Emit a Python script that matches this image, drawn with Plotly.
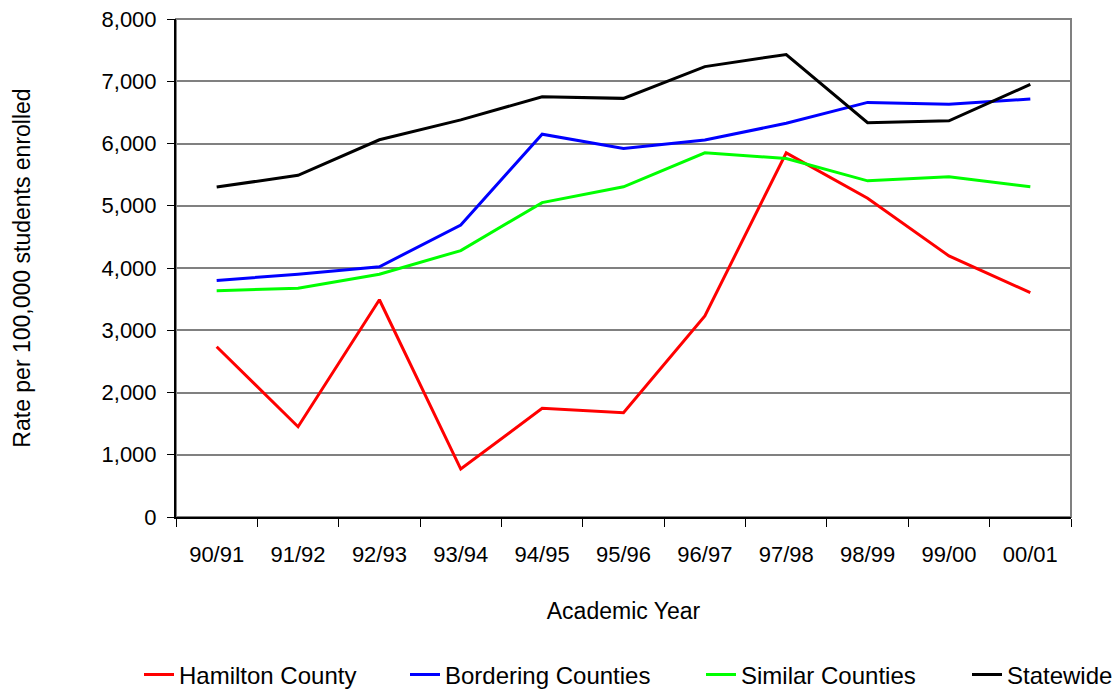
import plotly.graph_objects as go

years = ["90/91", "91/92", "92/93", "93/94", "94/95", "95/96", "96/97", "97/98", "98/99", "99/00", "00/01"]
hamilton = [2735, 1450, 3490, 770, 1745, 1675, 3230, 5850, 5120, 4195, 3605]
bordering = [3800, 3900, 4020, 4690, 6150, 5920, 6055, 6325, 6660, 6630, 6715]
similar = [3635, 3675, 3900, 4280, 5050, 5305, 5850, 5760, 5400, 5465, 5305]
statewide = [5300, 5490, 6060, 6380, 6750, 6725, 7235, 7430, 6335, 6365, 6950]

series = [
    ("Hamilton County", hamilton, "#FF0000"),
    ("Bordering Counties", bordering, "#0000FF"),
    ("Similar Counties", similar, "#00FF00"),
    ("Statewide", statewide, "#000000"),
]
# left pixel position of each legend entry
legend_px = [139, 405, 701, 967]

FONT = "Liberation Sans, Arial, sans-serif"
W, H = 1117, 689

fig = go.Figure()
legend_layouts = {}
for i, ((name, vals, color), px) in enumerate(zip(series, legend_px)):
    key = "legend" if i == 0 else f"legend{i + 1}"
    fig.add_trace(go.Scatter(x=years, y=vals, name=name, mode="lines",
                             line=dict(color=color, width=3), legend=key))
    legend_layouts[key] = dict(
        orientation="h", xref="container", x=px / W, xanchor="left",
        yref="container", y=1 - 675 / H, yanchor="middle",
        font=dict(size=24), bgcolor="rgba(0,0,0,0)",
    )

fig.update_layout(
    width=W, height=H,
    margin=dict(l=176, r=46, t=19, b=172, autoexpand=False),
    paper_bgcolor="white", plot_bgcolor="white",
    font=dict(family=FONT, size=22, color="black"),
    showlegend=True,
    shapes=[dict(type="rect", xref="paper", yref="paper", x0=0, x1=1, y0=0, y1=1,
                 line=dict(color="#808080", width=2), layer="below")],
    **legend_layouts,
)

fig.update_xaxes(
    type="category", range=[-0.5, len(years) - 0.5],
    tickson="boundaries", ticks="outside", ticklen=8,
    tickcolor="black", tickwidth=1,
    ticklabelstandoff=17,
    showline=True, linecolor="black", linewidth=2,
    showgrid=False, zeroline=False,
    tickfont=dict(size=22),
    title=dict(text="Academic Year", font=dict(size=23), standoff=36),
    automargin=False,
)
fig.update_yaxes(
    range=[0, 8000], dtick=1000, tickformat=",d",
    ticks="outside", ticklen=7, tickcolor="black", tickwidth=1,
    ticklabelstandoff=6,
    showline=True, linecolor="black", linewidth=2,
    showgrid=True, gridcolor="#808080", gridwidth=2,
    zeroline=False, tickfont=dict(size=22),
    title=dict(text="Rate per 100,000 students enrolled", font=dict(size=23), standoff=64),
    automargin=False,
)

fig.write_html("out.html", config={"displayModeBar": False},
               post_script="document.body.style.margin='0';")
